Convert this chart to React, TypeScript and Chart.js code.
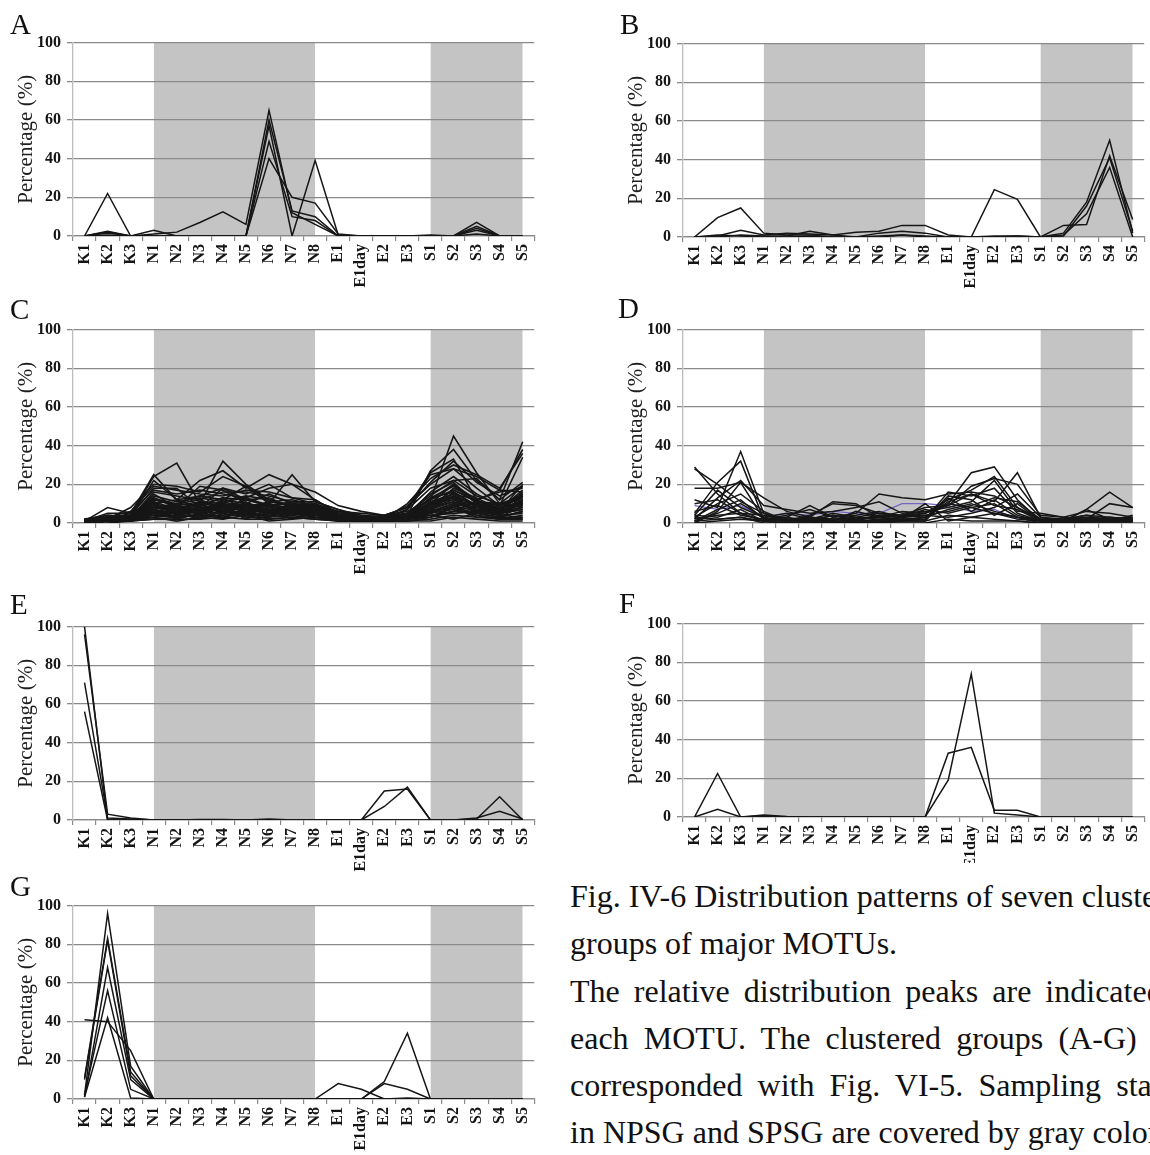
import React, { useEffect, useRef } from "react";
import { Chart, registerables } from "chart.js";

Chart.register(...registerables);

// Sampling stations along the cruise track
const stations = ["K1", "K2", "K3", "N1", "N2", "N3", "N4", "N5", "N6", "N7", "N8", "E1", "E1day", "E2", "E3", "S1", "S2", "S3", "S4", "S5"];

// Shaded bands: NPSG (N1–N8) and SPSG (S1–S5) stations
const npsgBand = [null, null, null, 100, 100, 100, 100, 100, 100, 100, 100, null, null, null, null, null, null, null, null, null];
const spsgBand = [null, null, null, null, null, null, null, null, null, null, null, null, null, null, null, 100, 100, 100, 100, 100];

const yTickValues = [0, 20, 40, 60, 80, 100];

// Relative abundance (%) of each MOTU per station, one row per MOTU
const groupA = [
  [0, 22, 0, 0, 0, 0, 0, 0, 40, 20, 17, 1, 0, 0, 0, 0, 0, 3, 0, 0],
  [0, 2.5, 0, 1, 2, 7, 12.5, 6, 65, 12, 6, 0, 0, 0, 0, 0.5, 0, 1, 0, 0],
  [0, 2, 0, 3, 0, 0, 0, 0, 57, 0, 39, 0.5, 0, 0, 0, 0, 0, 7, 0, 0],
  [0, 1.5, 0, 0, 0, 0, 0, 0, 49, 10, 8, 0, 0, 0, 0, 0, 0, 5, 0, 0],
  [0, 0.5, 0, 0, 0, 0, 0, 0, 60, 13, 10, 0, 0, 0, 0, 0, 0, 4, 0, 0],
];

const groupB = [
  [0, 10, 15, 2, 1, 1, 0, 0, 2, 3, 2, 0, 0, 24.5, 19.5, 0, 2, 18, 50, 2],
  [0, 0.5, 3.5, 1, 2, 1.5, 1, 2.5, 3, 6, 6, 1, 0, 0, 0.5, 0, 6, 6.5, 42, 9],
  [0, 0, 1, 0.5, 0.5, 3, 1, 0, 0, 1, 0, 0, 0, 0, 0, 0, 1, 12, 36, 0],
  [0, 1, 0.5, 0, 0, 0.5, 0, 0, 0.5, 1, 0.5, 0, 0, 0.5, 0.5, 0, 0.5, 16, 41, 3],
];

const groupC = [
  [1, 8, 5, 25, 12, 14, 18, 12, 9, 7, 10, 6, 3, 3, 5, 12, 45, 26, 10, 14],
  [1, 3, 4, 24, 31, 10, 32, 20, 12, 8, 9, 5, 4, 3, 4, 27, 38, 22, 12, 42],
  [1, 4, 3, 22, 12, 22, 27, 18, 25, 20, 16, 9, 6, 4, 8, 26, 33, 12, 17, 38],
  [2, 2, 8, 20, 19, 16, 24, 19, 10, 25, 11, 7, 3, 2, 10, 23, 30, 25, 18, 36],
  [1, 3, 4, 18, 18, 8, 18, 15, 20, 13, 10, 4, 2, 3, 9, 20, 28, 18, 9, 34],
  [1, 2, 5, 17, 15, 17, 15, 13, 18, 20, 12, 5, 3, 2, 7, 18, 22, 23, 12, 21],
  [2, 4, 3, 15, 8, 19, 17, 10, 15, 10, 8, 3, 2, 3, 5, 15, 21, 10, 6, 20],
  [1, 5, 5, 12, 10, 14, 12, 19, 11, 12, 9, 6, 5, 4, 6, 12, 20, 12, 16, 18],
  [1, 2, 3, 16, 14, 12, 16, 16, 14, 11, 11, 7, 4, 3, 7, 25, 28, 24, 17, 16],
  [0, 3, 6, 19, 17, 15, 14, 17, 16, 13, 12, 5, 3, 4, 8, 21, 32, 21, 14, 19],
  [1, 2, 3, 8, 6, 5, 9, 7, 6, 5, 4, 3, 2, 2, 3, 8, 12, 9, 6, 10],
  [0, 1, 2, 5, 7, 8, 6, 9, 5, 8, 6, 2, 1, 2, 2, 6, 10, 7, 4, 12],
  [2, 3, 2, 10, 5, 6, 7, 5, 4, 6, 7, 4, 3, 3, 4, 10, 15, 8, 5, 8],
  [1, 2, 4, 7, 9, 4, 11, 8, 7, 4, 5, 2, 2, 1, 2, 5, 9, 10, 7, 15],
  [0, 0, 1, 3, 4, 6, 5, 3, 5, 7, 3, 1, 1, 1, 1, 3, 8, 5, 3, 6],
  [1, 1, 2, 6, 3, 9, 8, 10, 6, 5, 8, 3, 2, 2, 3, 4, 6, 11, 9, 13],
  [1, 3, 3, 4, 8, 5, 10, 6, 9, 7, 6, 4, 3, 3, 5, 9, 14, 6, 4, 5],
  [0, 1, 1, 9, 5, 7, 4, 6, 3, 9, 5, 2, 1, 2, 2, 7, 11, 8, 6, 16],
  [2, 2, 3, 5, 6, 3, 7, 4, 8, 6, 4, 3, 2, 2, 3, 11, 13, 5, 3, 9],
  [1, 1, 2, 11, 4, 8, 9, 11, 5, 4, 7, 2, 2, 3, 4, 6, 16, 9, 8, 11],
  [0, 1, 1, 2, 3, 4, 3, 5, 2, 3, 2, 1, 1, 1, 1, 2, 4, 3, 2, 3],
  [1, 2, 2, 4, 5, 2, 6, 4, 4, 5, 3, 2, 1, 1, 2, 5, 7, 4, 2, 4],
  [1, 1, 3, 6, 2, 5, 3, 7, 6, 2, 6, 3, 2, 2, 3, 9, 17, 12, 5, 7],
  [0, 2, 2, 3, 6, 7, 9, 3, 3, 8, 4, 2, 2, 2, 2, 4, 5, 6, 4, 14],
  [1, 3, 4, 8, 7, 10, 5, 9, 10, 6, 9, 5, 3, 2, 4, 13, 19, 11, 10, 12],
  [2, 2, 2, 7, 3, 4, 8, 2, 7, 5, 3, 2, 1, 2, 2, 3, 9, 4, 2, 2],
  [0, 1, 2, 4, 4, 3, 4, 6, 3, 4, 5, 1, 1, 1, 2, 10, 12, 7, 6, 8],
  [1, 2, 3, 13, 8, 6, 12, 10, 8, 7, 7, 3, 2, 2, 3, 7, 18, 13, 7, 17],
  [1, 1, 1, 2, 2, 2, 3, 2, 2, 3, 2, 1, 1, 1, 1, 1, 3, 2, 1, 1],
  [1, 2, 1, 5, 9, 6, 2, 8, 4, 3, 4, 2, 2, 2, 2, 6, 8, 3, 3, 6],
  [0, 1, 2, 10, 6, 11, 10, 7, 5, 10, 6, 3, 2, 2, 3, 8, 14, 9, 5, 10],
  [1, 2, 2, 3, 1, 3, 2, 4, 1, 2, 3, 2, 1, 1, 2, 4, 2, 5, 3, 2],
  [2, 3, 3, 8, 10, 9, 13, 12, 9, 8, 10, 4, 3, 3, 5, 14, 22, 14, 10, 19],
  [1, 1, 1, 6, 5, 8, 6, 5, 7, 6, 5, 2, 2, 1, 2, 3, 6, 6, 4, 3],
  [1, 2, 3, 14, 11, 13, 11, 14, 12, 9, 8, 4, 2, 2, 4, 16, 24, 15, 9, 15],
  [1, 2, 2, 9, 8, 10, 9, 8, 11, 9, 8, 3, 2, 2, 3, 9, 13, 10, 8, 11],
  [2, 3, 3, 12, 9, 7, 11, 13, 9, 11, 9, 4, 3, 3, 4, 12, 17, 11, 9, 13],
  [1, 1, 2, 7, 10, 12, 8, 9, 7, 8, 10, 3, 2, 2, 3, 6, 10, 8, 7, 9],
  [0, 2, 3, 11, 7, 9, 13, 7, 10, 7, 6, 2, 2, 2, 3, 11, 15, 12, 6, 12],
  [1, 2, 2, 5, 6, 7, 8, 6, 6, 9, 7, 3, 2, 2, 2, 8, 11, 7, 5, 7],
  [1, 3, 3, 10, 12, 8, 7, 10, 8, 6, 8, 4, 3, 2, 4, 10, 20, 10, 8, 10],
  [2, 2, 3, 6, 8, 6, 10, 8, 9, 10, 9, 3, 2, 2, 3, 5, 9, 6, 5, 11],
  [1, 2, 2, 13, 9, 11, 8, 12, 13, 8, 7, 2, 2, 3, 3, 13, 16, 9, 7, 14],
];

const groupD = [
  [29, 15, 5, 1, 0, 1, 0, 0, 1, 1, 3, 10, 26, 29, 12, 1, 1, 2, 2, 1],
  [28, 20, 11, 5, 2, 1, 2, 1, 2, 3, 5, 12, 17, 24, 8, 1, 0, 1, 1, 1],
  [18, 18, 21, 13, 6, 3, 11, 10, 3, 2, 3, 11, 15, 11, 26, 3, 1, 7, 16, 8],
  [12, 8, 37, 5, 1, 2, 2, 1, 4, 4, 8, 9, 19, 23, 20, 4, 3, 2, 10, 8],
  [5, 21, 32, 2, 3, 9, 3, 5, 15, 13, 12, 15, 16, 14, 8, 2, 1, 7, 2, 2],
  [2, 13, 22, 9, 7, 5, 6, 8, 11, 5, 6, 8, 11, 22, 6, 5, 3, 6, 5, 3],
  [3, 10, 15, 6, 1, 3, 2, 3, 2, 2, 2, 14, 12, 4, 10, 1, 0, 1, 2, 2],
  [1, 5, 10, 3, 5, 2, 5, 3, 5, 3, 7, 5, 8, 10, 3, 0, 1, 2, 1, 1],
  [4, 3, 7, 1, 0, 0, 1, 0, 0, 1, 1, 13, 6, 12, 4, 1, 2, 3, 2, 3],
  [0, 6, 21, 2, 4, 7, 3, 4, 6, 3, 4, 3, 5, 8, 15, 3, 2, 1, 1, 2],
  [2, 4, 5, 4, 2, 1, 4, 2, 3, 2, 10, 1, 3, 2, 1, 0, 1, 0, 0, 0],
  [10, 12, 5, 1, 2, 2, 1, 6, 3, 4, 3, 7, 10, 6, 3, 1, 0, 2, 1, 1],
  [1, 2, 3, 1, 1, 1, 0, 1, 1, 1, 2, 16, 14, 18, 5, 1, 1, 1, 1, 1],
  [6, 9, 4, 2, 3, 1, 4, 2, 4, 3, 4, 6, 9, 13, 11, 2, 2, 4, 3, 2],
  [3, 2, 3, 0, 0, 0, 0, 0, 0, 0, 0, 2, 1, 1, 1, 0, 0, 0, 0, 0],
  [0, 1, 2, 1, 1, 1, 1, 1, 1, 1, 1, 4, 3, 5, 2, 1, 1, 1, 1, 1],
  [4, 17, 8, 3, 1, 4, 10, 9, 5, 4, 5, 10, 8, 5, 3, 2, 2, 4, 1, 4],
  [1, 7, 12, 2, 2, 3, 2, 2, 3, 6, 5, 9, 15, 9, 7, 1, 1, 2, 3, 2],
];
const groupDAccent = [9, 7, 9, 3, 5, 4, 6, 5, 5, 10, 10, 9, 6, 7, 2, 1, 1, 2, 1, 1];

const groupE = [
  [100, 0, 0, 0, 0, 0, 0, 0, 0, 0, 0, 0, 0, 15, 16, 0, 0, 0.5, 12, 0],
  [96, 3, 1, 0, 0, 0.3, 0.3, 0, 0.5, 0, 0, 0, 0, 7, 17, 0, 0, 1, 4.5, 0.5],
  [71, 1, 0.5, 0, 0, 0, 0, 0, 0, 0, 0, 0, 0, 0, 0, 0, 0, 0, 0, 0],
  [56, 0, 0, 0, 0, 0, 0, 0, 0, 0, 0, 0, 0, 0, 0, 0, 0, 0, 0, 0],
];

const groupF = [
  [0, 22.5, 0, 0.5, 0, 0, 0, 0, 0, 0, 0, 19, 74, 2, 1, 0, 0, 0, 0, 0],
  [0, 4, 0, 1, 0.3, 0, 0, 0, 0, 0, 0, 33, 36, 3.5, 3.5, 0, 0, 0, 0, 0],
];

const groupG = [
  [41, 40, 25, 0, 0, 0, 0, 0, 0, 0, 0, 8, 5, 0, 0, 0, 0, 0, 0, 0],
  [2, 96, 17, 0, 0, 0, 0, 0, 0, 0, 0, 0, 0, 9, 34, 0, 0, 0, 0, 0],
  [11, 83, 14, 0, 0, 0, 0, 0, 0, 0, 0, 0, 0, 8, 5, 0, 0, 0, 0, 0],
  [10, 82, 12, 0, 0, 0, 0, 0, 0, 0, 0, 0, 0, 0, 0.5, 0, 0, 0, 0, 0],
  [1, 68, 10, 0, 0, 0, 0, 0, 0, 0, 0, 0, 0, 0, 0, 0, 0, 0, 0, 0],
  [2, 56, 5, 0, 0, 0, 0, 0, 0, 0, 0, 0, 0, 0, 0, 0, 0, 0, 0, 0],
  [1, 42, 0.5, 0, 0, 0, 0, 0, 0, 0, 0, 0, 0, 0, 0, 0, 0, 0, 0, 0],
];

const captionLines = [
  { text: "Fig. IV-6 Distribution patterns of seven clustered", justify: false },
  { text: "groups of major MOTUs.", justify: false },
  { text: "The relative distribution peaks are indicated for", justify: true },
  { text: "each MOTU. The clustered groups (A-G) were", justify: true },
  { text: "corresponded with Fig. VI-5. Sampling stations", justify: true },
  { text: "in NPSG and SPSG are covered by gray color.", justify: false },
];

const SERIF = "'Liberation Serif', 'Times New Roman', serif";
const LINE_COLOR = "#161616";
const ACCENT_COLOR = "#7566c4";
const BAND_COLOR = "#c4c4c4";
const GRID_COLOR = "#8a8a8a";
const AXIS_COLOR = "#bdbdbd";

const Y_AXIS_W = 73;
const PAD_TOP = 12;
const PAD_RIGHT = 4;
const PLOT_W = 468;
const PLOT_H = 197;
const X_AXIS_H = 62;
const CANVAS_W = Y_AXIS_W + PLOT_W + PAD_RIGHT;
const CANVAS_H = PAD_TOP + PLOT_H + X_AXIS_H;

type PanelProps = {
  series: number[][];
  accent?: number[];
  lineWidth: number;
  plotLeft: number;
  plotTop: number;
  clipBottom?: number;
};

function bandDataset(values: (number | null)[]) {
  return {
    data: values,
    borderWidth: 0,
    pointRadius: 0,
    backgroundColor: BAND_COLOR,
    fill: "origin",
    spanGaps: false,
  };
}

function lineDataset(values: number[], color: string, width: number) {
  return {
    data: values,
    borderColor: color,
    borderWidth: width,
    pointRadius: 0,
    fill: false,
    tension: 0,
  };
}

function PanelChart({ series, accent, lineWidth, plotLeft, plotTop, clipBottom }: PanelProps) {
  const ref = useRef<HTMLCanvasElement | null>(null);

  useEffect(() => {
    if (!ref.current) return;
    const datasets: any[] = [bandDataset(npsgBand), bandDataset(spsgBand)];
    series.forEach((row) => datasets.push(lineDataset(row, LINE_COLOR, lineWidth)));
    if (accent) datasets.push(lineDataset(accent, ACCENT_COLOR, 1.3));

    const tickFont = { family: SERIF, size: 16, weight: "bold" as const };

    const chart = new Chart(ref.current, {
      type: "line",
      data: { labels: stations, datasets },
      options: {
        responsive: false,
        animation: false,
        devicePixelRatio: 1,
        events: [],
        layout: { padding: { top: PAD_TOP, right: PAD_RIGHT, left: 0, bottom: 0 } },
        plugins: {
          legend: { display: false },
          tooltip: { enabled: false },
          filler: { drawTime: "beforeDraw" },
        },
        scales: {
          x: {
            type: "category",
            offset: true,
            grid: {
              display: true,
              drawOnChartArea: false,
              drawTicks: true,
              tickLength: 5,
              offset: true,
              color: GRID_COLOR,
              lineWidth: 1.2,
            },
            border: { display: true, color: GRID_COLOR, width: 1.3 },
            ticks: {
              autoSkip: false,
              maxRotation: 90,
              minRotation: 90,
              padding: 3,
              color: "#151515",
              font: tickFont,
            },
            afterFit: (scale: any) => {
              scale.height = X_AXIS_H;
            },
          },
          y: {
            min: 0,
            max: 100,
            afterBuildTicks: (scale: any) => {
              scale.ticks = yTickValues.map((v) => ({ value: v }));
            },
            ticks: { padding: 6, color: "#151515", font: tickFont },
            grid: { color: GRID_COLOR, lineWidth: 1.3, tickLength: 6, drawTicks: true },
            border: { display: true, color: AXIS_COLOR, width: 1.3 },
            title: {
              display: true,
              text: "Percentage (%)",
              color: "#1e1e1e",
              font: { family: SERIF, size: 21 },
              padding: { top: 14, bottom: 0 },
            },
            afterFit: (scale: any) => {
              scale.width = Y_AXIS_W;
            },
          },
        },
      } as any,
    });
    return () => chart.destroy();
  }, [series, accent, lineWidth]);

  const top = plotTop - PAD_TOP;
  const visibleH = clipBottom !== undefined ? clipBottom - top : CANVAS_H;
  return (
    <div
      style={{
        position: "absolute",
        left: plotLeft - Y_AXIS_W,
        top,
        width: CANVAS_W,
        height: visibleH,
        overflow: "hidden",
      }}
    >
      <canvas ref={ref} width={CANVAS_W} height={CANVAS_H} style={{ display: "block", width: CANVAS_W, height: CANVAS_H }} />
    </div>
  );
}

const LEFT_X = 73;
const RIGHT_X = 683;

const panels = [
  { letter: "A", series: groupA, lineWidth: 1.5, plotLeft: LEFT_X, plotTop: 39, letterX: 10, letterBase: 34 },
  { letter: "B", series: groupB, lineWidth: 1.5, plotLeft: RIGHT_X, plotTop: 40, letterX: 620, letterBase: 34 },
  { letter: "C", series: groupC, lineWidth: 1.6, plotLeft: LEFT_X, plotTop: 326, letterX: 10, letterBase: 319 },
  { letter: "D", series: groupD, accent: groupDAccent, lineWidth: 1.5, plotLeft: RIGHT_X, plotTop: 326, letterX: 618, letterBase: 318 },
  { letter: "E", series: groupE, lineWidth: 1.5, plotLeft: LEFT_X, plotTop: 623, letterX: 10, letterBase: 614 },
  { letter: "F", series: groupF, lineWidth: 1.5, plotLeft: RIGHT_X, plotTop: 620, letterX: 619, letterBase: 613, clipBottom: 863 },
  { letter: "G", series: groupG, lineWidth: 1.5, plotLeft: LEFT_X, plotTop: 902, letterX: 10, letterBase: 896 },
];

const LETTER_SIZE = 29;
const CAPTION_SIZE = 32;
const CAPTION_LEFT = 570;
const CAPTION_WIDTH = 644;
const CAPTION_FIRST_BASE = 907;
const CAPTION_STEP = 47.2;

export default function App() {
  return (
    <div
      style={{
        position: "absolute",
        left: 0,
        top: 0,
        width: 1150,
        height: 1155,
        overflow: "hidden",
        background: "#ffffff",
        fontFamily: SERIF,
        color: "#111",
      }}
    >
      {panels.map((p) => (
        <PanelChart
          key={p.letter}
          series={p.series}
          accent={(p as any).accent}
          lineWidth={p.lineWidth}
          plotLeft={p.plotLeft}
          plotTop={p.plotTop}
          clipBottom={(p as any).clipBottom}
        />
      ))}
      {panels.map((p) => (
        <div
          key={"l" + p.letter}
          style={{
            position: "absolute",
            left: p.letterX,
            top: p.letterBase - LETTER_SIZE * 0.84,
            fontSize: LETTER_SIZE,
            lineHeight: 1,
            whiteSpace: "nowrap",
          }}
        >
          {p.letter}
        </div>
      ))}
      {captionLines.map((line, i) => (
        <div
          key={"c" + i}
          style={{
            position: "absolute",
            left: CAPTION_LEFT,
            top: CAPTION_FIRST_BASE + i * CAPTION_STEP - CAPTION_SIZE * 0.84,
            width: CAPTION_WIDTH,
            fontSize: CAPTION_SIZE,
            lineHeight: 1,
            whiteSpace: line.justify ? "normal" : "nowrap",
            textAlign: line.justify ? "justify" : "left",
            textAlignLast: line.justify ? "justify" : "left",
          }}
        >
          {line.text}
        </div>
      ))}
    </div>
  );
}
